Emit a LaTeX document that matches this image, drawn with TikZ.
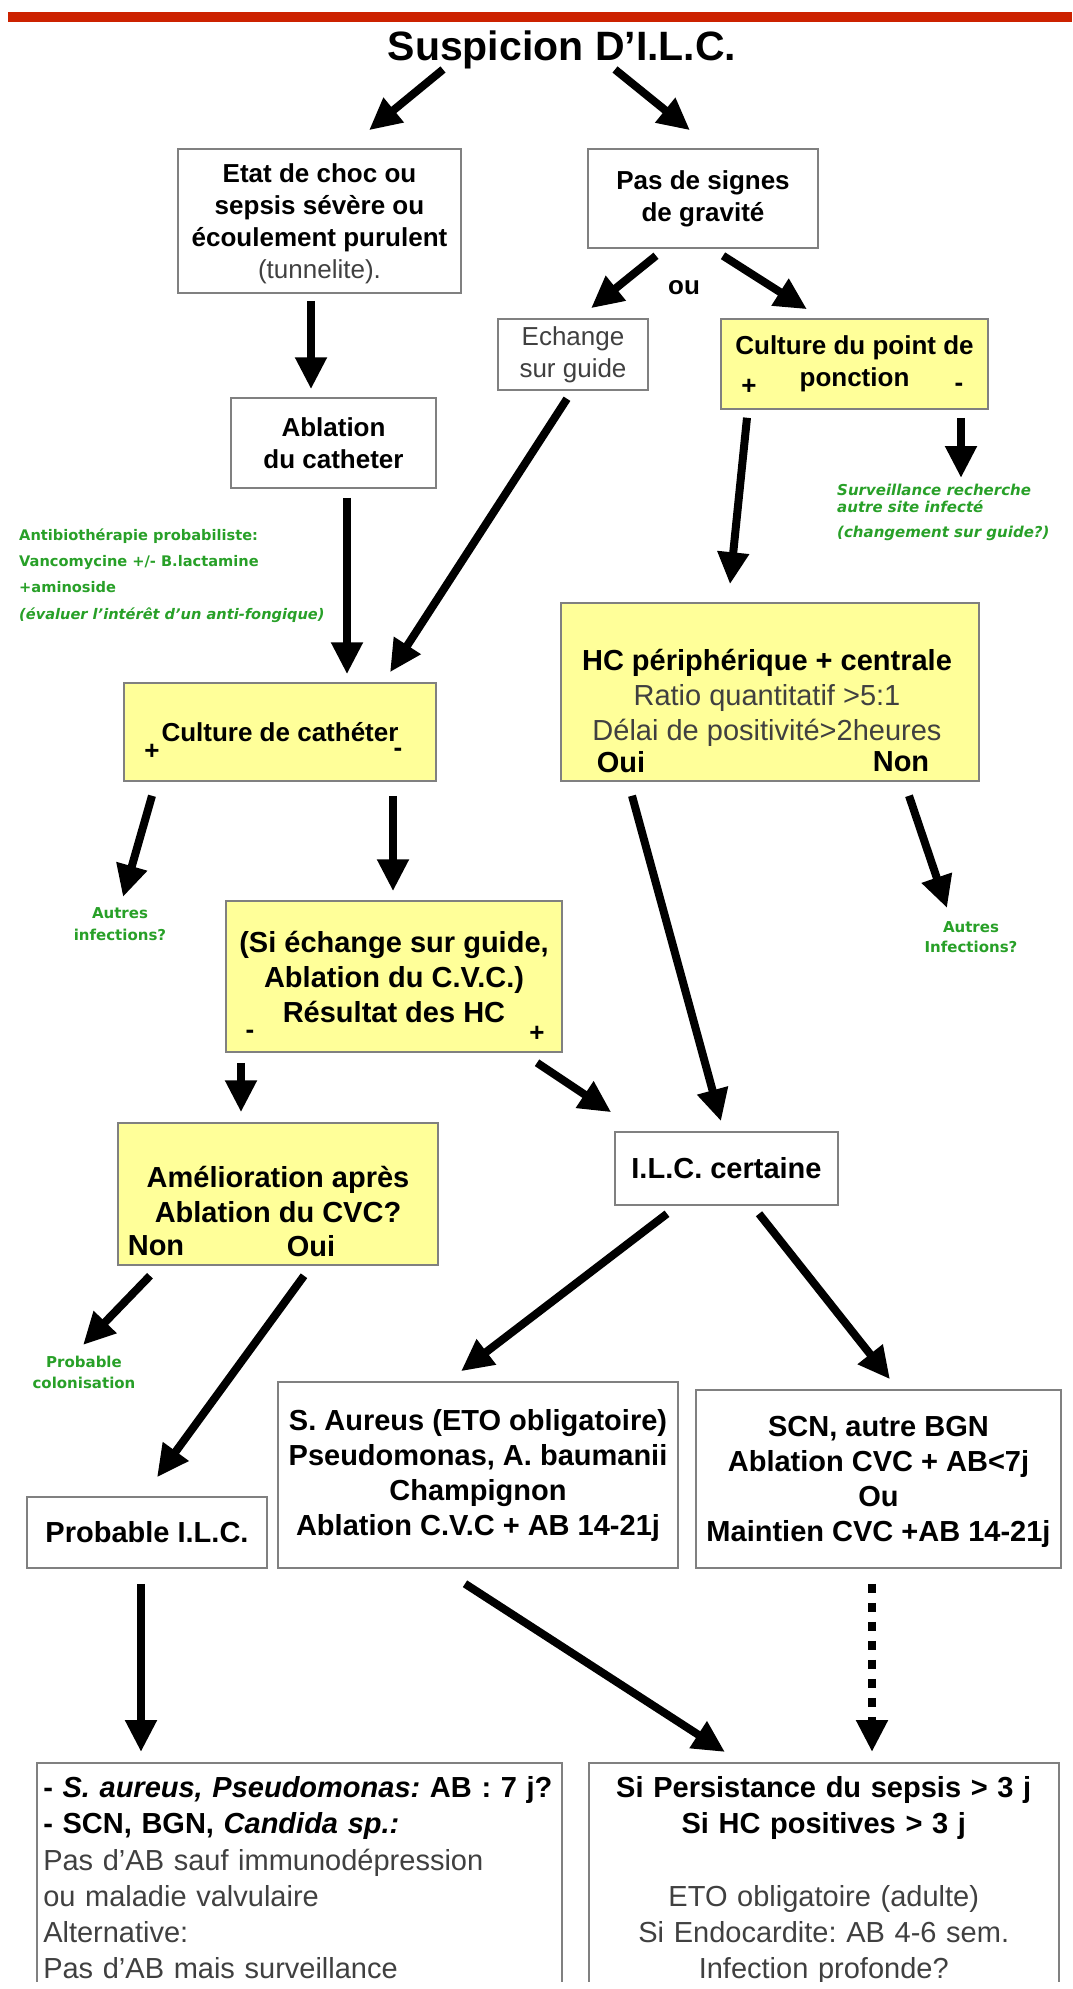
\documentclass[tikz,border=0pt]{standalone}
\usepackage{fontspec}
\setmainfont{Liberation Sans}
\newfontfamily\dvfont{DejaVu Sans}
\usetikzlibrary{arrows.meta}
\definecolor{boxyellow}{RGB}{255,255,153}
\definecolor{gtext}{RGB}{40,160,40}
\definecolor{redbar}{RGB}{204,34,0}
\definecolor{regtext}{RGB}{64,64,64}
\newcommand\szA{\fontsize{26}{32}\selectfont}
\newcommand\szB{\fontsize{29}{35}\selectfont}
\newcommand\szC{\fontsize{29}{36.2}\selectfont}
\begin{document}
\frenchspacing
\begin{tikzpicture}[x=1pt,y=-1pt,
  box/.style={draw=black!50, line width=1.5pt, fill=white, align=center, inner sep=0pt},
  ybox/.style={box, fill=boxyellow},
  lbl/.style={inner sep=0pt, align=center},
  arr/.style={line width=8pt, -{Triangle[width=30pt,length=32pt]}},
  darr/.style={arr, dash pattern=on 9pt off 10pt},
  gnote/.style={inner sep=0pt, text=gtext},
]
\useasboundingbox (0,0) rectangle (1072,1989);
\fill[white] (0,0) rectangle (1072,1989);
\clip (0,0) rectangle (1072,1981);
\fill[redbar] (8,12) rectangle (1072,22);

% title
\node[lbl, font=\fontsize{41}{48}\selectfont\bfseries] (title) at (562,49.5) {Suspicion D’I.L.C.};

% first level
\node[box, minimum width=283pt, minimum height=144pt] (etat) at (319.5,221) {};
\node[lbl, font=\szA\bfseries] (etattext) at (319.5,224)
  {Etat de choc ou\\sepsis sévère ou\\écoulement purulent\\{\mdseries\color{regtext}(tunnelite).}};
\node[box, minimum width=230pt, minimum height=99pt, font=\szA\bfseries] (pas) at (703,198.5)
  {Pas de signes\\de gravité};
\node[lbl, font=\szA\bfseries] (ou) at (684,288) {ou};

\node[box, minimum width=150pt, minimum height=71pt, font=\szA, text=regtext] (echange) at (573,354.5)
  {Echange\\sur guide};
\node[ybox, minimum width=267pt, minimum height=90pt, font=\szA\bfseries] (culpt) at (854.5,364)
  {Culture du point de\\ponction};
\node[lbl, font=\szA\bfseries] (culptplus) at (749,387) {+};
\node[lbl, font=\szA\bfseries] (culptminus) at (959,387) {-};

\node[box, minimum width=205pt, minimum height=90pt, font=\szA\bfseries] (ablation) at (333.5,443)
  {Ablation\\du catheter};

% green notes
\node[gnote, anchor=west, align=left, font=\dvfont\bfseries\itshape\fontsize{15}{17}\selectfont] (surv) at (837,512)
  {Surveillance recherche\\autre site infecté\\[8pt](changement sur guide?)};
\node[gnote, anchor=west, align=left, font=\dvfont\bfseries\fontsize{14.6}{26.3}\selectfont] (antibio) at (19,575.5)
  {Antibiothérapie probabiliste:\\Vancomycine +/- B.lactamine\\+aminoside\\\textit{(évaluer l’intérêt d’un anti-fongique)}};

% catheter culture and HC
\node[ybox, minimum width=312pt, minimum height=98pt, font=\szA\bfseries] (culcath) at (280,732)
  {Culture de cathéter};
\node[lbl, font=\szA\bfseries] (cathplus) at (152,752) {+};
\node[lbl, font=\szA\bfseries] (cathminus) at (398,752) {-};

\node[ybox, minimum width=418pt, minimum height=178pt] (hc) at (770,692) {};
\node[lbl, font=\szB, text=regtext] (hctext) at (767,697.5)
  {{\bfseries\color{black}HC périphérique + centrale}\\Ratio quantitatif >5:1\\Délai de positivité>2heures};
\node[lbl, font=\szB\bfseries] (hcoui) at (621,762) {Oui};
\node[lbl, font=\szB\bfseries] (hcnon) at (901,762) {Non};

\node[gnote, align=center, font=\dvfont\bfseries\fontsize{15}{22}\selectfont] (autres1) at (120,924)
  {Autres\\infections?};
\node[gnote, align=center, font=\dvfont\bfseries\fontsize{15}{20}\selectfont] (autres2) at (971,937)
  {Autres\\Infections?};

\node[ybox, minimum width=336pt, minimum height=151pt, font=\szB\bfseries] (siech) at (394,976.5)
  {(Si échange sur guide,\\Ablation du C.V.C.)\\Résultat des HC};
\node[lbl, font=\szA\bfseries] (siechminus) at (250,1034) {-};
\node[lbl, font=\szA\bfseries] (siechplus) at (537,1034) {+};

\node[ybox, minimum width=320pt, minimum height=142pt, font=\szB\bfseries] (amel) at (278,1194)
  {Amélioration après\\Ablation du CVC?};
\node[lbl, font=\szB\bfseries] (amelnon) at (156,1246) {Non};
\node[lbl, font=\szB\bfseries] (ameloui) at (311,1246) {Oui};

\node[box, minimum width=223pt, minimum height=73pt, font=\szB\bfseries] (ilc) at (726.5,1168.5)
  {I.L.C. certaine};

\node[gnote, align=center, font=\dvfont\bfseries\fontsize{15}{21}\selectfont] (probcol) at (84,1372.5)
  {Probable\\colonisation};

\node[box, minimum width=400pt, minimum height=186pt, font=\szB\bfseries] (saur) at (478,1475)
  {S. Aureus (ETO obligatoire)\\Pseudomonas, A. baumanii\\Champignon\\Ablation C.V.C + AB 14-21j};
\node[box, minimum width=365pt, minimum height=178pt] (scn) at (878.5,1479) {};
\node[lbl, font=\szB\bfseries] (scntext) at (878.5,1481.5)
  {SCN, autre BGN\\Ablation CVC + AB<7j\\Ou\\Maintien CVC +AB 14-21j};
\node[box, minimum width=240pt, minimum height=71pt, font=\szB\bfseries] (probilc) at (147,1532.5)
  {Probable I.L.C.};

% bottom boxes
\node[box, anchor=north west, text width=512pt, align=left, inner xsep=6.5pt, inner ysep=14pt, font=\szC] (botleft) at (36,1762)
  {\textbf{- \textit{S. aureus, Pseudomonas:} AB : 7 j?}\\
   \textbf{- SCN, BGN, \textit{Candida sp.:}}\\
   \textcolor{regtext}{Pas d’AB sauf immunodépression}\\
   \textcolor{regtext}{ou maladie valvulaire}\\
   \textcolor{regtext}{Alternative:}\\
   \textcolor{regtext}{Pas d’AB mais surveillance}};
\node[box, anchor=north west, text width=454pt, align=center, inner xsep=8pt, inner ysep=14pt, font=\szC] (botright) at (588,1762)
  {\textbf{Si Persistance du sepsis > 3 j}\\
   \textbf{Si HC positives > 3 j}\\[36.2pt]
   \textcolor{regtext}{ETO obligatoire (adulte)}\\
   \textcolor{regtext}{Si Endocardite: AB 4-6 sem.}\\
   \textcolor{regtext}{Infection profonde?}};

% connectors
\draw[arr] ([shift={(-119,20)}]title.center) -- ([shift={(49.5,-18)}]etat.north);
\draw[arr] ([shift={(53,20)}]title.center) -- ([shift={(-13,-18)}]pas.north);
\draw[arr] ([shift={(-8.5,7)}]etat.south) -- ([shift={(-22.5,-8)}]ablation.north);
\draw[arr] ([shift={(-47,7)}]pas.south) -- ([shift={(18,-10)}]echange.north);
\draw[arr] ([shift={(20,7)}]pas.south) -- ([shift={(-47.5,-9)}]culpt.north);
\draw[arr] ([shift={(-6,8)}]echange.south) -- ([shift={(110,-10)}]culcath.north);
\draw[arr] ([shift={(13.5,9)}]ablation.south) -- ([shift={(67,-8)}]culcath.north);
\draw[arr] ([shift={(-107.5,8)}]culpt.south) -- ([shift={(-40,-18)}]hc.north);
\draw[arr] ([shift={(106.5,8)}]culpt.south) -- ([shift={(124,-34)}]surv.west);
\draw[arr] ([shift={(-128,14)}]culcath.south) -- ([shift={(3,-27)}]autres1.center);
\draw[arr] ([shift={(113,14)}]culcath.south) -- ([shift={(-1,-9)}]siech.north);
\draw[arr] ([shift={(-138,14)}]hc.south) -- ([shift={(-5.5,-10)}]ilc.north);
\draw[arr] ([shift={(139,14)}]hc.south) -- ([shift={(-24,-29)}]autres2.center);
\draw[arr] ([shift={(-153,10)}]siech.south) -- ([shift={(-37,-10)}]amel.north);
\draw[arr] ([shift={(143,10)}]siech.south) -- ([shift={(-3,-19)}]ilc.north west);
\draw[arr] ([shift={(-128,10)}]amel.south) -- ([shift={(-1,-27.5)}]probcol.center);
\draw[arr] ([shift={(26,10)}]amel.south) -- ([shift={(10,-19)}]probilc.north);
\draw[arr] ([shift={(-59.5,8)}]ilc.south) -- ([shift={(-17,-10)}]saur.north);
\draw[arr] ([shift={(32.5,8)}]ilc.south) -- ([shift={(11.5,-10)}]scn.north);
\draw[arr] ([shift={(-6,15)}]probilc.south) -- ([shift={(105,-10)}]botleft.north west);
\draw[arr] ([shift={(-13,15)}]saur.south) -- ([shift={(137,-10)}]botright.north west);
\draw[darr] ([shift={(-6.5,15)}]scn.south) -- ([shift={(284,-10)}]botright.north west);
\end{tikzpicture}
\end{document}
